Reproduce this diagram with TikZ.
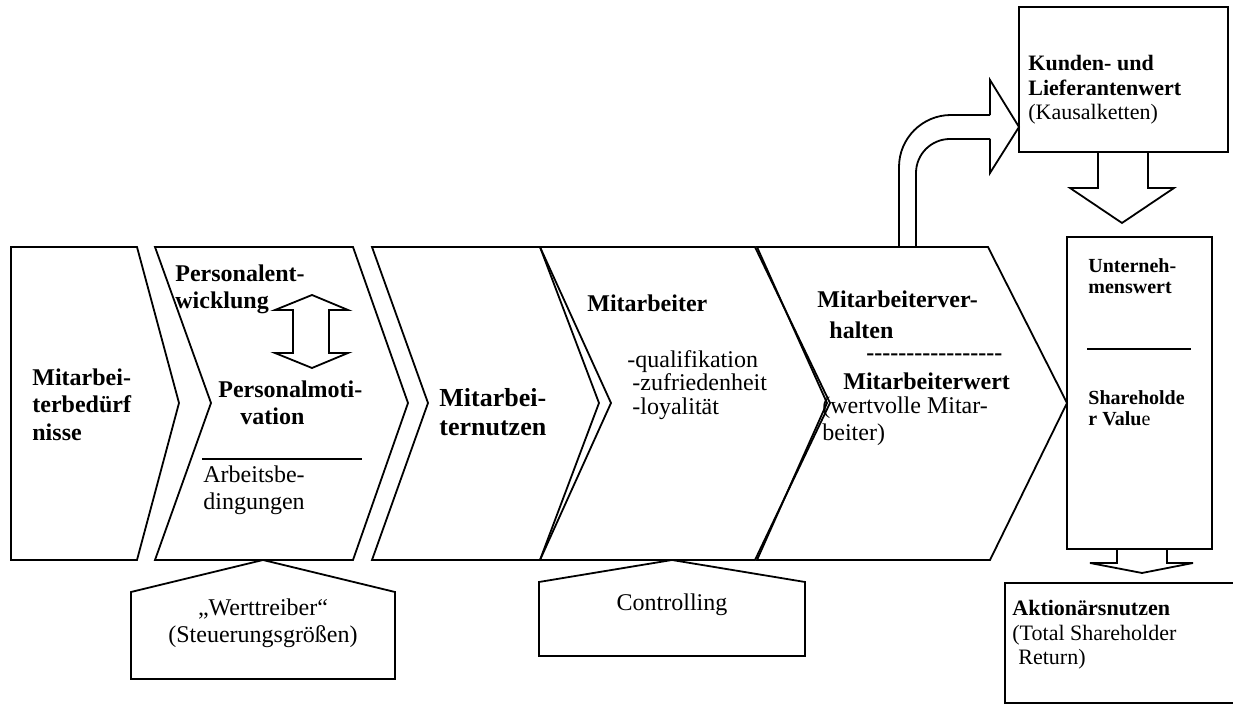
\documentclass[tikz,border=0pt]{standalone}
\usepackage{fontspec}
\setmainfont{Liberation Serif}
\usetikzlibrary{positioning}
\tikzset{chain px/.style={x=0.5pt, y=-0.5pt}}
\tikzset{chev/.style={draw, line width=0.9pt, line join=miter}}
\tikzset{blockarr/.style={draw, line width=0.9pt, line join=miter}}
\tikzset{txt/.style={anchor=north west, inner sep=0pt, align=left, font=\fontsize{12}{13.8}\selectfont}}
\tikzset{btxt/.style={txt, font=\fontsize{12}{13.8}\selectfont\bfseries}}
\tikzset{ctxt/.style={anchor=north, inner sep=0pt, align=center, font=\fontsize{12}{13.8}\selectfont}}

\begin{document}
\begin{tikzpicture}[chain px]
  \useasboundingbox (0,0) rectangle (1233,704);
  % value chain
  \draw[chev] (11,247) -- (137,247) -- (179,403) -- (137,560) -- (11,560) -- cycle;
  \draw[chev] (155,247) -- (353,247) -- (408,403) -- (353,560) -- (155,560) -- (211,403) -- cycle;
  \draw[chev] (372,247) -- (540,247) -- (599,403) -- (540,560) -- (372,560) -- (428,403) -- cycle;
  \draw[chev] (540,247) -- (755,247) -- (830,403) -- (755,560) -- (540,560) -- (611,403) -- cycle;
  \draw[chev] (757,247) -- (988,247) -- (1067,403) -- (990,560) -- (757,560) -- (827,403) -- cycle;

  \node[btxt] (beduerf) at (32,368) {Mitarbei-\\terbedürf\\nisse};
  \node[btxt] (entw) at (175,264) {Personalent-\\wicklung};
  \node[btxt] (motiv) at (218,380) {Personalmoti-\\\hspace*{11pt}vation};
  \coordinate (motivA) at (202,459);
  \coordinate (motivB) at (362,459);
  \draw[line width=0.6pt] (motivA) -- (motivB);
  \node[txt] (arbb) at (203,465) {Arbeitsbe-\\dingungen};
  \draw[blockarr] (312,295) -- (348,310) -- (329,310) -- (329,353) -- (348,353) -- (312,368)
    -- (275,353) -- (293,353) -- (293,310) -- (275,310) -- cycle;

  \node[btxt, font=\fontsize{13}{14.5}\selectfont\bfseries] (nutzen) at (439,388) {Mitarbei-\\ternutzen};
  \node[btxt] (mitarb) at (587,294) {Mitarbeiter};
  \node[txt, font=\fontsize{12}{11.75}\selectfont] (merkm) at (627,350) {-qualifikation\\\hspace*{2.5pt}-zufriedenheit\\\hspace*{2.5pt}-loyalität};

  \node[btxt] (verh) at (817,290) {Mitarbeiterver-\\[2pt]\hspace*{6pt}halten};
  \node[btxt, anchor=west] (strich) at (866,357) {-{}-{}-{}-{}-{}-{}-{}-{}-{}-{}-{}-{}-{}-{}-{}-{}-{}};
  \node[btxt] (mwert) at (843,372) {Mitarbeiterwert};
  \node[txt] (wertv) at (822,396) {(wertvolle Mitar-\\beiter)};

  % right column
  \draw[chev] (1067,237) rectangle (1212,549);
  \node[btxt, font=\fontsize{10}{10.5}\selectfont\bfseries] (uwert) at (1088,258) {Unterneh-\\menswert};
  \coordinate (uwertA) at (1087,349);
  \coordinate (uwertB) at (1191,349);
  \draw[line width=1pt] (uwertA) -- (uwertB);
  \node[btxt, font=\fontsize{10}{10.5}\selectfont\bfseries] (svalue) at (1088,390) {Shareholde\\r Valu\mdseries e};

  \draw[chev] (1019,7) rectangle (1228,152);
  \node[btxt, font=\fontsize{11}{12.3}\selectfont\bfseries] (kunden) at (1028,55) {Kunden- und\\Lieferantenwert\\\mdseries(Kausalketten)};

  % block arrows
  \draw[blockarr, rounded corners=26pt] (899,247) -- (899,115) -- (990,115);
  \draw[blockarr, rounded corners=17pt] (916,247) -- (916,139) -- (990,139);
  \draw[blockarr] (990,115) -- (990,80) -- (1019,127) -- (990,173) -- (990,139);
  \draw[blockarr] (1098,152) -- (1098,188) -- (1070,188) -- (1122,223) -- (1174,188) -- (1148,188) -- (1148,152);
  \draw[blockarr] (1117,549) -- (1117,563) -- (1090,563) -- (1142,573) -- (1193,563) -- (1167,563) -- (1167,549);

  \draw[chev] (1240,583) -- (1005,583) -- (1005,703) -- (1240,703);
  \node[btxt, font=\fontsize{11}{12.3}\selectfont\bfseries] (aktion) at (1012,600) {Aktionärsnutzen\\\mdseries(Total Shareholder\\\hspace*{3pt}\mdseries Return)};

  % lower drivers
  \draw[chev] (263,560) -- (395,592) -- (395,679) -- (131,679) -- (131,592) -- cycle;
  \node[ctxt] (werttr) at (263,598) {„Werttreiber“\\(Steuerungsgrößen)};
  \draw[chev] (672,560) -- (805,582) -- (805,656) -- (539,656) -- (539,582) -- cycle;
  \node[ctxt] (contr) at (672,593) {Controlling};
\end{tikzpicture}
\end{document}
